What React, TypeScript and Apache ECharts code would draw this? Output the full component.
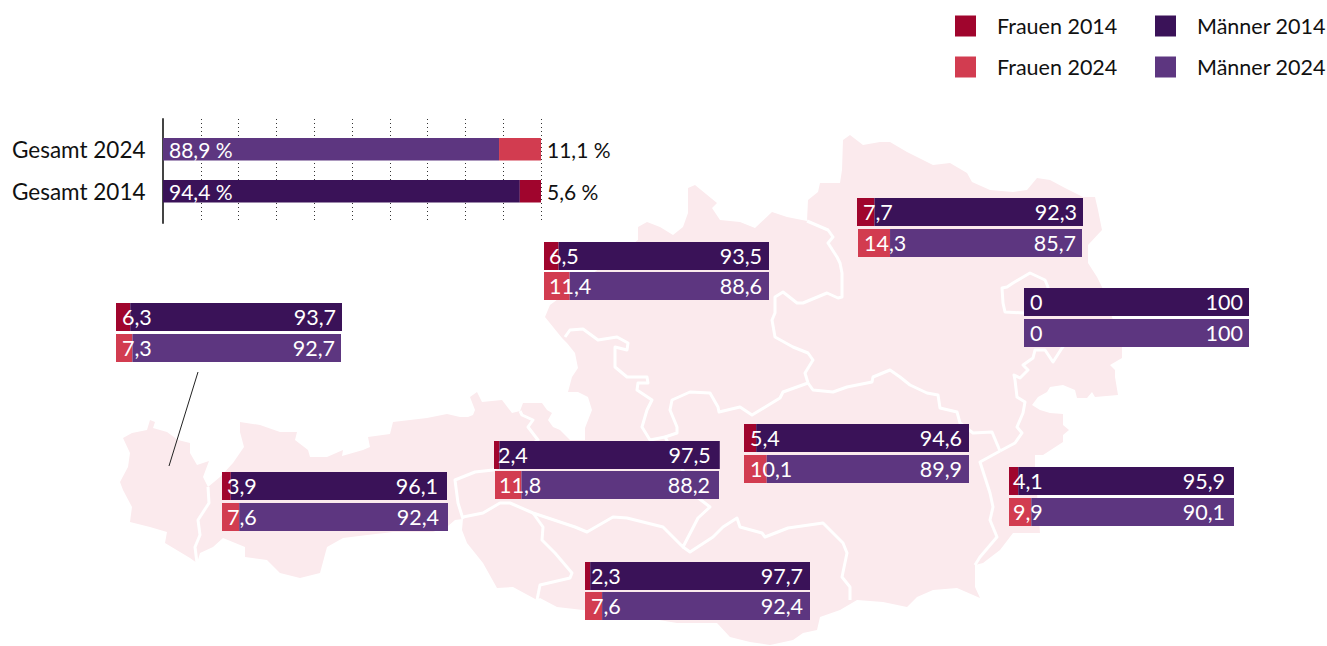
import React, { useEffect, useRef } from "react";
import * as echarts from "echarts";

// ---- data ----
const regions = ["Vorarlberg", "Tirol", "Salzburg", "Kärnten", "Oberösterreich", "Steiermark", "Niederösterreich", "Wien", "Burgenland"];
const women2014 = [6.3, 3.9, 2.4, 2.3, 6.5, 5.4, 7.7, 0, 4.1];
const men2014 = [93.7, 96.1, 97.5, 97.7, 93.5, 94.6, 92.3, 100, 95.9];
const women2024 = [7.3, 7.6, 11.8, 7.6, 11.4, 10.1, 14.3, 0, 9.9];
const men2024 = [92.7, 92.4, 88.2, 92.4, 88.6, 89.9, 85.7, 100, 90.1];

const totalCategories = ["Gesamt 2014", "Gesamt 2024"];
const totalMen2014 = [94.4, null];
const totalWomen2014 = [5.6, null];
const totalMen2024 = [null, 88.9];
const totalWomen2024 = [null, 11.1];

// ---- layout of the small bars: [left, top, width] ----
const layout2014 = [[116, 303, 226], [222, 472, 225], [494, 441, 226], [585, 562, 225], [544, 242, 225], [744, 424, 225], [857, 198, 226], [1024, 288, 225], [1009, 467, 225]];
const layout2024 = [[116, 334, 225], [222, 503, 226], [495, 471, 224], [585, 592, 225], [544, 272, 225], [744, 455, 225], [858, 229, 224], [1024, 319, 225], [1009, 498, 225]];
const insetLeft = [6, 5, 4, 6, 5, 6, 6, 6, 4];
const insetRight = [6, 9, 9, 7, 7, 7, 6, 6, 9];

// ---- background map of Austria (page pixels) ----
const mapOutline = [
  [150, 420], [155, 422], [153, 428], [167, 432], [178, 440], [190, 443], [190, 453], [197, 465], [209, 461], [203, 477], [208, 487], [220, 477], [233, 463], [244, 447], [240, 432], [240, 422],
  [260, 425], [280, 432], [297, 432], [295, 440], [308, 450], [310, 457], [327, 457], [343, 450], [342, 456], [363, 450], [370, 447], [368, 437], [390, 434], [393, 422], [427, 418], [447, 414],
  [460, 417], [468, 417], [473, 415], [475, 410], [470, 397], [477, 392], [482, 402], [502, 400], [512, 413], [520, 411], [523, 403], [542, 403], [547, 410], [552, 413], [548, 420], [553, 427], [560, 430], [570, 440],
  [585, 440], [585, 428], [592, 410], [588, 397], [578, 392], [568, 392], [572, 377], [578, 368], [575, 353], [567, 343], [562, 338], [545, 317], [550, 305], [638, 240],
  [638, 227], [647, 222], [660, 227], [673, 235], [683, 227], [688, 213], [688, 188], [695, 185], [717, 203], [712, 208], [720, 220], [740, 222], [755, 228], [772, 212], [787, 217], [807, 221],
  [808, 200], [818, 192], [820, 183], [840, 183], [842, 170], [843, 140], [850, 135], [863, 145], [880, 142], [890, 142], [907, 152], [923, 160], [933, 165], [950, 163], [967, 173], [972, 182], [990, 190], [1013, 192], [1027, 190], [1037, 178], [1050, 180], [1065, 188], [1083, 197], [1095, 197], [1098, 210], [1102, 230], [1088, 245], [1088, 263], [1097, 277], [1102, 287],
  [1122, 347], [1122, 358], [1110, 365], [1115, 370], [1115, 377], [1118, 395], [1095, 397], [1092, 392], [1087, 398], [1077, 398], [1075, 390], [1063, 385], [1050, 387], [1047, 392], [1038, 397], [1032, 405], [1040, 410], [1050, 413], [1063, 414], [1063, 425], [1069, 430], [1063, 435], [1063, 442], [1043, 455], [1035, 455], [1035, 467],
  [1040, 533], [1013, 533], [1000, 550], [983, 563], [975, 565], [975, 587], [980, 598], [957, 588], [933, 590], [917, 597], [907, 607], [883, 602], [857, 600], [840, 610], [820, 617], [817, 630], [803, 633], [793, 640], [770, 645], [750, 642], [730, 637], [717, 623], [677, 623], [617, 613], [583, 610], [557, 607], [540, 598],
  [537, 600], [513, 587], [497, 588], [483, 563], [467, 543], [462, 530], [463, 519], [455, 520], [448, 526], [433, 532], [393, 532], [367, 535], [343, 538], [327, 547], [320, 573], [300, 578], [280, 573], [267, 560], [245, 557], [245, 547], [223, 538], [213, 547], [200, 553],
  [197, 563], [190, 558], [180, 552], [165, 543], [167, 532], [150, 527], [130, 522], [132, 507], [123, 490], [120, 482], [128, 467], [130, 453], [123, 438], [132, 433], [147, 430],
];
const mapBorders = [
  [[208, 487], [209, 503], [198, 520], [200, 535], [195, 547], [197, 563]],
  [[520, 411], [522, 415], [533, 420], [528, 427], [538, 440], [493, 470], [475, 472], [455, 480], [458, 503], [463, 519]],
  [[463, 517], [483, 513], [500, 503], [510, 503], [533, 513], [575, 527], [587, 532], [613, 517], [627, 518], [663, 527], [673, 537], [683, 547], [698, 518], [710, 507], [697, 497], [665, 437], [650, 440], [642, 427], [647, 410], [652, 400], [637, 390], [638, 383], [648, 383], [647, 377], [627, 377], [615, 367], [615, 347], [627, 350], [628, 343], [617, 337], [598, 340], [583, 329], [570, 330], [565, 337]],
  [[533, 513], [543, 527], [542, 540], [555, 553], [572, 573], [570, 578], [540, 585], [537, 600]],
  [[683, 547], [690, 552], [713, 537], [723, 527], [737, 518], [740, 527], [762, 533], [765, 537], [788, 528], [823, 523], [843, 543], [847, 553], [842, 577], [850, 587], [850, 600]],
  [[665, 437], [677, 433], [677, 427], [670, 410], [672, 400], [690, 392], [710, 393], [718, 407], [719, 412], [740, 407], [752, 415], [780, 398], [783, 392], [808, 383]],
  [[807, 221], [828, 230], [833, 237], [828, 243], [837, 257], [840, 263], [842, 273], [842, 297], [838, 298], [827, 293], [803, 303], [797, 303], [783, 292], [775, 297], [775, 313], [772, 320], [775, 337], [793, 347], [808, 353], [813, 360], [805, 373], [808, 383]],
  [[808, 383], [813, 390], [833, 392], [847, 387], [872, 382], [873, 377], [890, 370], [900, 377], [910, 385], [927, 393], [938, 395], [940, 408], [957, 412], [960, 423], [973, 433], [992, 432], [1000, 451]],
  [[1000, 451], [1015, 443], [1022, 433], [1017, 427], [1023, 413], [1025, 402], [1017, 397], [1015, 380], [1014, 375], [1020, 378], [1028, 370], [1023, 365], [1033, 358], [1035, 350], [1045, 350], [1053, 362], [1062, 348], [1075, 330]],
  [[1000, 451], [980, 462], [990, 493], [993, 507], [990, 520], [997, 537], [980, 557], [975, 565]],
  [[1048, 287], [1045, 280], [1030, 273], [1013, 283], [1007, 287], [1002, 288], [1003, 303], [1005, 312], [1024, 313], [1048, 313], [1048, 287]],
];
const leaderLine = [[198, 372], [169, 466]];

const RED_14 = "#a0052d";
const RED_24 = "#d23c50";
const PUR_14 = "#3a1258";
const PUR_24 = "#5d3680";
const FONT = "Lato, sans-serif";

const fmt = (v: number) => String(v).replace(".", ",");

function App() {
  const ref = useRef<HTMLDivElement>(null);
  useEffect(() => {
    const chart = echarts.init(ref.current!, undefined, { renderer: "svg" });
    const grids: any[] = [];
    const xAxes: any[] = [];
    const yAxes: any[] = [];
    const series: any[] = [];

    // top chart: frame (axis line + dotted split lines)
    grids.push({ left: 163, top: 119, width: 378, height: 104 });
    xAxes.push({
      gridIndex: 0, type: "value", min: 0, max: 100, interval: 10,
      axisLine: { show: false }, axisTick: { show: false }, axisLabel: { show: false },
      splitLine: { show: true, lineStyle: { color: "#333", width: 1, type: [1, 3] } },
    });
    yAxes.push({
      gridIndex: 0, type: "category", data: [""], position: "left",
      axisLine: { show: true, onZero: false, lineStyle: { color: "#444", width: 2 } },
      axisTick: { show: false }, axisLabel: { show: false }, splitLine: { show: false },
    });

    // top chart: bars
    grids.push({ left: 163, top: 128.3, width: 378, height: 84 });
    xAxes.push({ gridIndex: 1, type: "value", min: 0, max: 100, show: false });
    yAxes.push({
      gridIndex: 1, type: "category", data: totalCategories, z: 5,
      axisLine: { show: false }, axisTick: { show: false },
      axisLabel: { color: "#111", fontFamily: FONT, fontSize: 22.5, align: "left", margin: 151 },
    });
    const totalSeries = (name: string, data: any[], color: string, isMen: boolean) => ({
      type: "bar", name, data, stack: "total", xAxisIndex: 1, yAxisIndex: 1, barWidth: 22.5,
      itemStyle: { color },
      label: {
        show: true,
        position: isMen ? "insideLeft" : "right",
        distance: 6,
        color: isMen ? "#fff" : "#111",
        fontFamily: FONT,
        fontSize: 21,
        formatter: (p: any) => fmt(p.value) + " %",
      },
    });
    series.push(totalSeries("Männer 2014", totalMen2014, PUR_14, true));
    series.push(totalSeries("Frauen 2014", totalWomen2014, RED_14, false));
    series.push(totalSeries("Männer 2024", totalMen2024, PUR_24, true));
    series.push(totalSeries("Frauen 2024", totalWomen2024, RED_24, false));

    // small bars over the map
    const addRow = (i: number, box: number[], w: number, m: number, wName: string, mName: string, wCol: string, mCol: string) => {
      const idx = grids.length;
      grids.push({ left: box[0], top: box[1], width: box[2], height: 28 });
      xAxes.push({ gridIndex: idx, type: "value", min: 0, max: 100, show: false });
      yAxes.push({ gridIndex: idx, type: "category", data: [regions[i]], show: false });
      const stack = "s" + idx;
      const base = { type: "bar", stack, xAxisIndex: idx, yAxisIndex: idx, barWidth: 28 };
      const text = { show: true, color: "#fff", fontFamily: FONT, fontSize: 21.5, formatter: (p: any) => fmt(p.value) };
      series.push({ ...base, name: wName, data: [w], itemStyle: { color: wCol }, label: { ...text, position: "insideLeft", distance: insetLeft[i] } });
      series.push({ ...base, name: mName, data: [m], itemStyle: { color: mCol }, label: { ...text, position: "insideRight", distance: insetRight[i] } });
    };
    regions.forEach((_, i) => {
      addRow(i, layout2014[i], women2014[i], men2014[i], "Frauen 2014", "Männer 2014", RED_14, PUR_14);
      addRow(i, layout2024[i], women2024[i], men2024[i], "Frauen 2024", "Männer 2024", RED_24, PUR_24);
    });

    const legendBase = {
      orient: "vertical", itemWidth: 21, itemHeight: 21, itemGap: 19, top: 10, icon: "rect", selectedMode: false,
      textStyle: { color: "#111", fontFamily: FONT, fontSize: 21.5, padding: [0, 0, 0, 16] },
    };

    chart.setOption({
      animation: false,
      backgroundColor: "#fff",
      grid: grids,
      xAxis: xAxes,
      yAxis: yAxes,
      series,
      legend: [
        { ...legendBase, left: 950, data: ["Frauen 2014", "Frauen 2024"] },
        { ...legendBase, left: 1150, data: ["Männer 2014", "Männer 2024"] },
      ],
      graphic: [
        { type: "polygon", silent: true, shape: { points: mapOutline }, style: { fill: "#fbeaed", stroke: "none" } },
        ...mapBorders.map((points) => ({
          type: "polyline", silent: true, shape: { points },
          style: { stroke: "#fff", lineWidth: 3, fill: "none", lineJoin: "round" },
        })),
        { type: "polyline", silent: true, shape: { points: leaderLine }, style: { stroke: "#222", lineWidth: 1, fill: "none" } },
      ],
    });
    return () => chart.dispose();
  }, []);
  return <div ref={ref} style={{ position: "fixed", left: 0, top: 0, width: 1327, height: 646 }} />;
}

export default App;
